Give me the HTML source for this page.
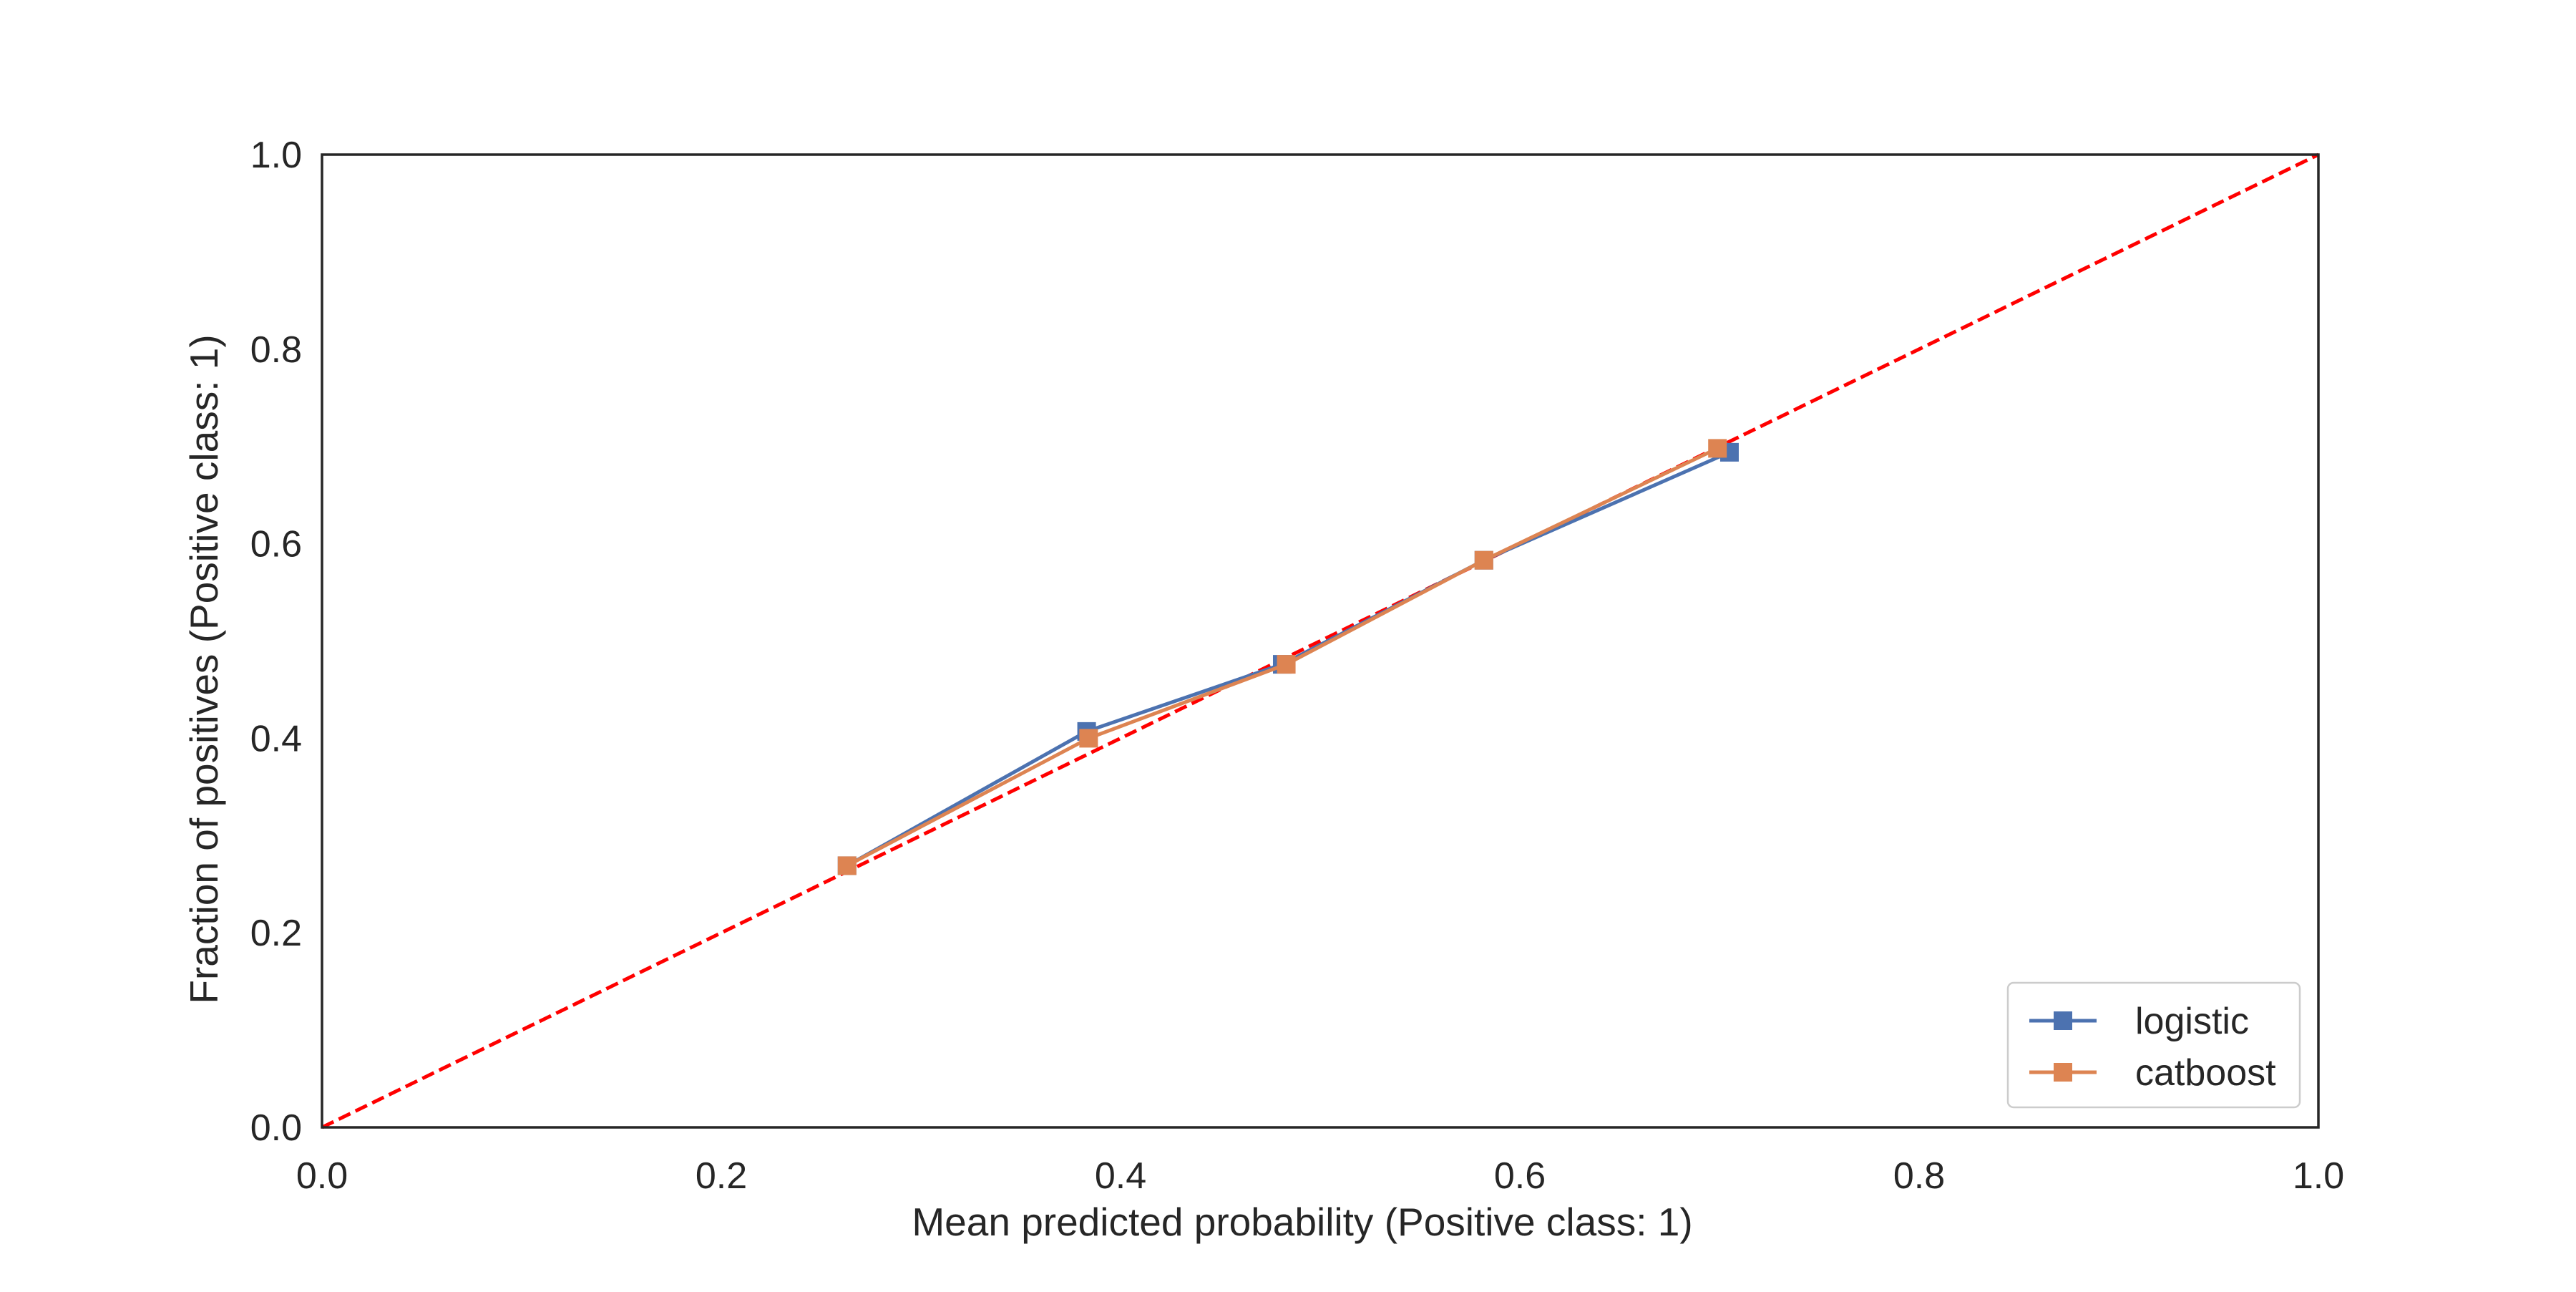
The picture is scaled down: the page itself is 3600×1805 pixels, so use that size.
<!DOCTYPE html>
<html><head><meta charset="utf-8"><style>
html,body{margin:0;padding:0;background:#fff;}
svg text{font-family:"Liberation Sans",Arial,sans-serif;fill:#262626;}
</style></head><body>
<svg id="chart" width="3600" height="1800" viewBox="0 0 3600 1800" xmlns="http://www.w3.org/2000/svg">
<rect width="3600" height="1800" fill="#fff"/>
<g id="plot"></g>
</svg>
<script>
const ticks = [0, 0.2, 0.4, 0.6, 0.8, 1.0];
const tickLabels = ["0.0","0.2","0.4","0.6","0.8","1.0"];
const logisticX = [0.263, 0.383, 0.481, 0.582, 0.705];
const logisticY = [0.269, 0.407, 0.476, 0.583, 0.694];
const catboostX = [0.263, 0.384, 0.483, 0.582, 0.699];
const catboostY = [0.269, 0.400, 0.476, 0.583, 0.698];

const L=450,R=3240,T=216,B=1575;
const sx=v=>L+v*(R-L), sy=v=>B-v*(B-T);
const NS="http://www.w3.org/2000/svg";
const g=document.getElementById('plot');
function mk(tag,attrs,parent){const e=document.createElementNS(NS,tag);for(const k in attrs)e.setAttribute(k,attrs[k]);(parent||g).appendChild(e);return e;}

ticks.forEach((t,i)=>{
  const xl=mk('text',{x:sx(t),y:1660,'font-size':52,'text-anchor':'middle'});
  xl.textContent=tickLabels[i];
  
  
  const yl=mk('text',{x:422,y:sy(t)+18,'font-size':52,'text-anchor':'end'});
  yl.textContent=tickLabels[i];
  
  
});

const diag=mk('line',{x1:sx(0),y1:sy(0),x2:sx(1),y2:sy(1),stroke:'#ff0000','stroke-width':5,'stroke-dasharray':'18,8'});



function series(xs,ys,color,name){
  const pts=xs.map((x,i)=>sx(x)+','+sy(ys[i])).join(' ');
  const pl=mk('polyline',{points:pts,fill:'none',stroke:color,'stroke-width':5});
  
  
  xs.forEach((x,i)=>{
    const r=mk('rect',{x:sx(x)-13,y:sy(ys[i])-13,width:26,height:26,fill:color});
    
    
  });
}
series(logisticX,logisticY,'#4c72b0','logistic');
series(catboostX,catboostY,'#dd8452','catboost');

const frame=mk('rect',{x:L,y:T,width:R-L,height:B-T,fill:'none',stroke:'#262626','stroke-width':3.5});



const xt=mk('text',{x:(L+R)/2-25,y:1726,'font-size':55,'text-anchor':'middle'});
xt.textContent='Mean predicted probability (Positive class: 1)';


const yt=mk('text',{x:0,y:0,'font-size':55,'text-anchor':'middle',transform:'translate(304,935) rotate(-90)'});
yt.textContent='Fraction of positives (Positive class: 1)';



const lg=mk('g',{});


mk('rect',{x:2806,y:1373,width:408,height:174,rx:8,fill:'#fff',stroke:'#cccccc','stroke-width':2.5},lg);
[['logistic','#4c72b0',1426],['catboost','#dd8452',1498]].forEach(([n,c,y])=>{
  mk('line',{x1:2836,y1:y,x2:2930,y2:y,stroke:c,'stroke-width':5},lg);
  mk('rect',{x:2870,y:y-13,width:26,height:26,fill:c},lg);
  const t=mk('text',{x:2984,y:y+18,'font-size':52},lg);
  t.textContent=n;
  
  
});
</script>
</body></html>
